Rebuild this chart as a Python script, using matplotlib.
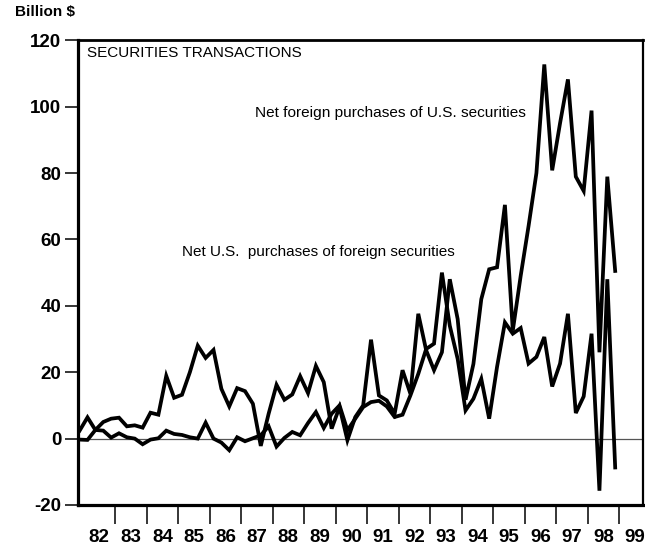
import numpy as np
import matplotlib
matplotlib.use('Agg')
import matplotlib.pyplot as plt
import pandas as pd

# quarterly data, 1981Q4 - 1998Q4, billions of dollars
quarters = pd.period_range('1981Q4', '1998Q4', freq='Q')

# net U.S. purchases of foreign securities
us_buy_foreign = [2.4, 6.4, 2.6, 2.4, 0.3, 1.6, 0.4, 0.0, -1.7, -0.3,
                  0.1, 2.4, 1.4, 1.1, 0.4, 0.0, 4.8, 0.0, -1.2, -3.5,
                  0.4, -0.8, 0.1, 1.0, 3.7, -2.4, 0.2, 2.0, 1.0, 4.7,
                  8.0, 3.2, 7.5, 10.0, 2.5, 6.0, 9.5, 11.0, 11.4, 9.7,
                  6.5, 7.2, 13.0, 19.5, 27.0, 28.6, 50.0, 34.0, 24.0, 8.5,
                  12.0, 18.0, 6.0, 21.6, 35.0, 31.6, 33.3, 22.6, 24.6, 30.6,
                  15.7, 22.6, 37.6, 7.7, 12.7, 31.6, -15.7, 48.0, -8.7]

# net foreign purchases of U.S. securities
foreign_buy_us = [-0.3, -0.4, 2.6, 5.0, 6.0, 6.3, 3.7, 4.0, 3.3, 7.8,
                  7.2, 18.9, 12.3, 13.2, 20.0, 28.0, 24.3, 26.7, 15.0, 9.7,
                  15.2, 14.3, 10.5, -2.2, 7.5, 16.2, 11.7, 13.3, 18.8, 13.7,
                  21.9, 17.0, 3.0, 9.5, -0.5, 6.5, 10.0, 29.8, 13.0, 11.5,
                  7.5, 20.6, 13.5, 37.6, 26.6, 20.6, 26.0, 48.0, 36.0, 11.7,
                  22.5, 42.0, 51.0, 51.6, 70.4, 32.5, 49.0, 64.0, 80.0, 112.7,
                  80.8, 95.0, 108.2, 78.9, 74.6, 98.8, 26.0, 78.9, 50.5]

years = np.arange(1982, 2000)
year_labels = ['%02d' % (y % 100) for y in years]
y_ticks = [-20, 0, 20, 40, 60, 80, 100, 120]

# plot each quarter at its midpoint
t = np.array([q.year + (q.quarter - 0.5) / 4 for q in quarters])

plt.rcParams['font.family'] = ['Liberation Sans', 'DejaVu Sans']

fig = plt.figure(figsize=(6.45, 5.53), dpi=100)
ax = fig.add_axes([0.121, 0.0868, 0.876, 0.8405])

ax.axhline(0, color='#555555', lw=0.9, zorder=1)
ax.plot(t, foreign_buy_us, color='black', lw=2.7, solid_joinstyle='miter', zorder=3)
ax.plot(t, us_buy_foreign, color='black', lw=2.7, solid_joinstyle='miter', zorder=3)

ax.set_xlim(1981.825, 1999.76)
ax.set_ylim(-20, 120)

# year boundaries as long ticks, labels centred in each year
ax.set_xticks(years[1:])
ax.set_xticklabels([])
ax.set_xticks(years + 0.5, minor=True)
ax.set_xticklabels(year_labels, minor=True, fontsize=13.5, fontweight='bold')
ax.tick_params(axis='x', which='major', direction='out', length=13.5, width=1.1)
ax.tick_params(axis='x', which='minor', length=0, pad=17)

ax.set_yticks(y_ticks)
ax.set_yticklabels([str(v) for v in y_ticks], fontsize=13.5, fontweight='bold')
ax.tick_params(axis='y', direction='out', length=9.5, width=1.1, pad=2.5)

for side, w in [('left', 2.3), ('bottom', 2.3), ('top', 2.0), ('right', 1.6)]:
    ax.spines[side].set_linewidth(w)

ax.text(1982.11, 116.0, 'SECURITIES TRANSACTIONS', fontsize=11,
        ha='left', va='center')
ax.text(1987.44, 98.0, 'Net foreign purchases of U.S. securities',
        fontsize=11.1, ha='left', va='center')
ax.text(1985.13, 56.2, 'Net U.S.  purchases of foreign securities',
        fontsize=11, ha='left', va='center')

fig.text(15 / 645, 1 - 12 / 553, 'Billion $', fontsize=11, fontweight='bold',
         ha='left', va='center')

fig.savefig('out.png', dpi=100)
